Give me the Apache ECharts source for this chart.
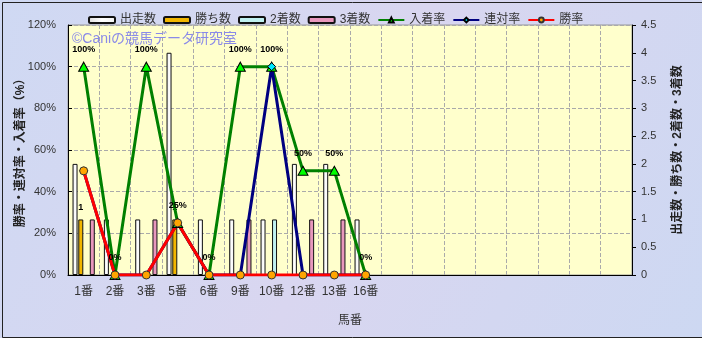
<!DOCTYPE html>
<html><head><meta charset="utf-8">
<script src="https://cdn.jsdelivr.net/npm/echarts@6/dist/echarts.min.js"></script>
<style>html,body{margin:0;padding:0;}#c{width:702px;height:338px;}</style>
</head><body><div id="c"></div>
<script>
// ---- data ----
var categories = ['1番','2番','3番','5番','6番','9番','10番','12番','13番','16番'];
var emptySlots = 8;
var starts   = [2,1,1,4,1,1,1,2,2,1];   // 出走数
var wins     = [1,0,0,1,0,0,0,0,0,0];   // 勝ち数
var seconds  = [0,0,0,0,0,0,1,0,0,0];   // 2着数
var thirds   = [1,0,1,0,0,1,0,1,1,0];   // 3着数
var placeRate = [100,0,100,25,0,100,100,50,50,0]; // 入着率
var rentaiRate = [50,0,0,25,0,0,100,0,0,0];       // 連対率
var winRate    = [50,0,0,25,0,0,0,0,0,0];         // 勝率
var leftTicks = {min:0, max:120, step:20};
var rightTicks = {min:0, max:4.5, step:0.5};

var FONT = '"Liberation Sans", "Noto Sans CJK JP", sans-serif';
var axisData = categories.concat(new Array(emptySlots).fill(''));
function nz(a){ return a.map(function(v){ return v === 0 ? '-' : v; }); }

function barSeries(name, data, color, extra){
  var s = {
    name: name, type: 'bar', yAxisIndex: 1, data: nz(data),
    barWidth: 5, barGap: '15%',
    itemStyle: {color: color, borderColor: '#111', borderWidth: 1}
  };
  for (var k in extra) s[k] = extra[k];
  return s;
}
var whiteGrad = {type:'linear', x:0, y:0, x2:1, y2:0, colorStops:[{offset:0,color:'#dcdcdc'},{offset:0.5,color:'#ffffff'},{offset:1,color:'#f2f2f2'}]};

var chart = echarts.init(document.getElementById('c'), null, {renderer:'canvas'});
chart.setOption({
  animation: false,
  backgroundColor: {type:'linear', x:0, y:0, x2:1, y2:1, colorStops:[{offset:0,color:'#cfd9f3'},{offset:0.5,color:'#d9d6f0'},{offset:1,color:'#cdd8f2'}]},
  textStyle: {fontFamily: FONT},
  legend: {
    left: 83, top: 9, itemWidth: 26, itemHeight: 6, itemGap: 7,
    textStyle: {fontSize: 12, color: '#333', fontFamily: FONT},
    data: ['出走数','勝ち数','2着数','3着数','入着率','連対率','勝率']
  },
  grid: {left: 68, right: 70, top: 25, bottom: 63, show: true, backgroundColor: '#ffffcc', borderColor: '#999', borderWidth: 1},
  xAxis: {
    type: 'category', data: axisData,
    name: '馬番', nameLocation: 'middle', nameGap: 40, nameMoveOverlap: false,
    nameTextStyle: {fontSize: 12, color: '#333'},
    axisLine: {lineStyle: {color: '#000'}},
    axisTick: {show: false},
    axisLabel: {interval: 0, fontSize: 12, color: '#333', margin: 11},
    splitLine: {show: true, interval: 0, lineStyle: {color: '#aaa', type: 'dashed'}}
  },
  yAxis: [{
    type: 'value', min: leftTicks.min, max: leftTicks.max, interval: leftTicks.step,
    name: '勝率・連対率・入着率（%）', nameLocation: 'middle', nameGap: 41, nameRotate: 90, nameMoveOverlap: false,
    nameTextStyle: {fontSize: 12, fontWeight: 'bold', color: '#222'},
    axisLine: {show: true, lineStyle: {color: '#000'}},
    axisTick: {show: true, inside: true, length: 4, lineStyle: {color: '#000'}},
    axisLabel: {formatter: '{value}%', fontSize: 11, color: '#333', margin: 12},
    splitLine: {show: true, lineStyle: {color: '#aaa', type: 'dashed'}}
  },{
    type: 'value', position: 'right', min: rightTicks.min, max: rightTicks.max, interval: rightTicks.step,
    name: '出走数・勝ち数・2着数・3着数', nameLocation: 'middle', nameGap: 40, nameRotate: 90, nameMoveOverlap: false,
    nameTextStyle: {fontSize: 12, fontWeight: 'bold', color: '#222'},
    axisLine: {show: true, lineStyle: {color: '#000'}},
    axisTick: {show: true, length: 4, lineStyle: {color: '#000'}},
    axisLabel: {fontSize: 11, color: '#333', margin: 9},
    splitLine: {show: false}
  }],
  graphic: [
    {type: 'text', left: 72, top: 32, z: 1, style: {text: '©Caniの競馬データ研究室', fill: '#8a8ae8', font: '14px "Liberation Sans", "Noto Sans CJK JP", sans-serif'}},
    {type: 'rect', left: 0, top: 0, z: 100, silent: true, shape: {x: 0.5, y: 0.5, width: 700, height: 335}, style: {fill: 'none', stroke: '#222', lineWidth: 1}}
  ],
  series: [
    barSeries('出走数', starts, whiteGrad, {}),
    barSeries('勝ち数', wins, '#f2b600', {label: {show: true, position: 'top', distance: 7, fontSize: 9, fontWeight: 'bold', color: '#000'}}),
    barSeries('2着数', seconds, '#bff0f0', {}),
    barSeries('3着数', thirds, '#e897bd', {}),
    {
      name: '入着率', type: 'line', yAxisIndex: 0, data: placeRate,
      symbol: 'triangle', symbolSize: [10, 9], showAllSymbol: true,
      lineStyle: {color: '#008000', width: 3},
      itemStyle: {color: '#00ff00', borderColor: '#000', borderWidth: 1},
      label: {show: true, position: 'top', distance: 8, formatter: '{c}%', fontSize: 9, fontWeight: 'bold', color: '#000'}
    },
    {
      name: '連対率', type: 'line', yAxisIndex: 0, data: rentaiRate,
      symbol: 'diamond', symbolSize: 8, showAllSymbol: true,
      lineStyle: {color: '#000080', width: 3},
      itemStyle: {color: '#00e8ff', borderColor: '#000', borderWidth: 1}
    },
    {
      name: '勝率', type: 'line', yAxisIndex: 0, data: winRate,
      symbol: 'circle', symbolSize: 8, showAllSymbol: true,
      lineStyle: {color: '#ff0000', width: 3},
      itemStyle: {color: '#ffa500', borderColor: '#333', borderWidth: 1}
    }
  ]
});
</script></body></html>
